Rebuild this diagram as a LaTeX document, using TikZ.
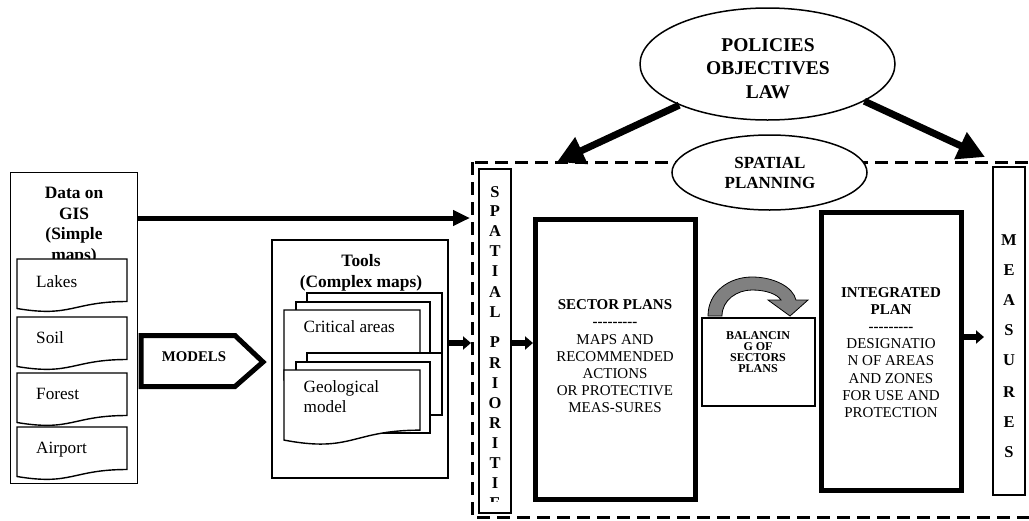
\documentclass[tikz,border=0pt]{standalone}
\usepackage{fontspec}
\setmainfont{Liberation Serif}
\usetikzlibrary{arrows.meta,shapes.geometric}
\newcommand\mydoc[5]{% x1 y1 x2 h name
  \filldraw[docline] (#1,#2) -- (#3,#2) -- (#3,{#2+0.802*#4})
    .. controls ({(#1+#3)/2},{#2+0.802*#4}) and ({(#1+#3)/2},{#2+1.108*#4}) .. (#1,{#2+0.934*#4}) -- cycle;
  \coordinate (#5) at (#1,#2);}
\newcommand\mystack[2]{% top y of back layer, name
  \filldraw[docline] (307,#1) rectangle (442,{#1+62});
  \filldraw[docline] (296,{#1+9}) rectangle (430,{#1+80});
  \mydoc{284}{#1+17}{420}{75}{#2}}
\begin{document}
\begin{tikzpicture}[x=1pt,y=-1pt,
  docline/.style={draw=black, fill=white, line width=1.4pt},
  tbox/.style={draw, line width=1.5pt, fill=white, inner sep=0pt},
  fatbox/.style={draw, line width=5pt, fill=white, inner sep=0pt},
  bigarrow/.style={line width=5pt, -{Triangle[length=17pt,width=15pt]}},
  smallarrow/.style={line width=6pt, -{Triangle[length=8pt,width=13pt]}},
  polarrow/.style={line width=7pt, -{Triangle[length=27pt,width=28pt]}},
  txt/.style={inner sep=0pt, font=\fontsize{17.2}{20}\selectfont},
  btxt/.style={inner sep=0pt, font=\bfseries\fontsize{17.4}{20.5}\selectfont},
  plantxt/.style={inner sep=0pt, align=center, font=\fontsize{15}{17.2}\selectfont},
  letter/.style={inner sep=0pt, font=\bfseries\fontsize{16.5}{18}\selectfont}
]
\useasboundingbox (0,0) rectangle (1029,520);
\clip (0,0) rectangle (1029,520);

% dashed spatial planning frame
\draw[line width=3pt, dash pattern=on 13pt off 7pt] (472,162) rectangle (1045,517);

% Data on GIS
\node[tbox, minimum width=127pt, minimum height=311pt] (data) at (74,328) {};
\node[btxt, align=center, anchor=north] (datatext) at (74,187) {Data on\\GIS\\(Simple\\maps)};
\mydoc{17}{259}{127}{53}{lakesdoc}
\mydoc{17}{317}{127}{53}{soildoc}
\mydoc{17}{373}{127}{53}{forestdoc}
\mydoc{17}{427}{127}{53}{airportdoc}
\node[txt, anchor=base west] (lakes) at (36,287) {Lakes};
\node[txt, anchor=base west] (soil) at (36,343) {Soil};
\node[txt, anchor=base west] (forest) at (36,399) {Forest};
\node[txt, anchor=base west] (airport) at (36,453) {Airport};

% MODELS arrow shape
\draw[line width=5pt, line join=miter, fill=white] (141,335.5) -- (235,335.5) -- (263,362) -- (235,386.5) -- (141,386.5) -- cycle;
\node[inner sep=0pt, font=\bfseries\fontsize{14.8}{17}\selectfont] (models) at (194,356.5) {MODELS};

% Tools
\node[tbox, minimum width=176pt, minimum height=238pt] (tools) at (360,359) {};
\node[btxt, align=center, anchor=north] (toolstext) at (361,254.5) {Tools\\(Complex maps)};
\mystack{293}{critdoc}
\mystack{353}{geodoc}
\node[txt, anchor=base west] (crit) at (303.5,332.5) {Critical areas};
\node[txt, align=left, anchor=north west] (geo) at (303.5,380) {Geological\\model};

% Spatial priorities
\node[tbox, minimum width=32pt, minimum height=344pt] (sp) at (495,341) {};
\begin{scope}
\clip (480,170) rectangle (510,501);
\foreach \ch/\yy in {S/192,P/211,A/231,T/251,I/271,A/292,L/312,P/342,R/363,I/383,O/403,R/423,I/443,T/463,I/483,E/503}
  \node[letter] (sp\yy) at (495,\yy) {\ch};
\end{scope}

% Sector plans
\node[fatbox, minimum width=160pt, minimum height=280pt] (sector) at (615.5,359.5) {};
\node[plantxt] (sectortext) at (615,356.5) {\textbf{SECTOR PLANS}\\\textbf{-{}-{}-{}-{}-{}-{}-{}-{}-}\\MAPS AND\\RECOMMENDED\\ACTIONS\\OR PROTECTIVE\\MEAS-SURES};

% Balancing
\node[tbox, minimum width=113pt, minimum height=88pt] (bal) at (758.5,362) {};
\node[inner sep=0pt, align=center, font=\bfseries\fontsize{12}{10.8}\selectfont] (baltext) at (758,352) {BALANCIN\\G OF\\SECTORS\\PLANS};
\filldraw[fill=gray, draw=black, line width=0.8pt]
  (708,316) .. controls (708,292) and (729,277) .. (752,277)
  .. controls (774,277) and (793,287) .. (796,300)
  -- (808,300) -- (790,316) -- (768,300) -- (781,300)
  .. controls (777,294) and (766,290) .. (752,290)
  .. controls (737,290) and (722,300) .. (722,316) -- cycle;

% Integrated plan
\node[fatbox, minimum width=140pt, minimum height=278pt] (integ) at (891.5,351.5) {};
\node[plantxt] (integtext) at (891,352.5) {\textbf{INTEGRATED}\\\textbf{PLAN}\\\textbf{-{}-{}-{}-{}-{}-{}-{}-{}-}\\DESIGNATIO\\N OF AREAS\\AND ZONES\\FOR USE AND\\PROTECTION};

% Measures
\node[tbox, minimum width=32pt, minimum height=328pt] (meas) at (1009,331) {};
\foreach \ch/\yy in {M/240,E/270,A/300,S/330,U/360,R/392,E/422,S/452}
  \node[letter] (ms\yy) at (1009,\yy) {\ch};

% Ellipses
\node[ellipse, draw, line width=1.5pt, fill=white, minimum width=255pt, minimum height=112pt, inner sep=0pt] (pol) at (767.5,64) {};
\node[inner sep=0pt, align=center, font=\bfseries\fontsize{19.5}{23.5}\selectfont] (poltext) at (768,68.5) {POLICIES\\OBJECTIVES\\LAW};
\node[ellipse, draw, line width=1.5pt, fill=white, minimum width=195pt, minimum height=75pt, inner sep=0pt] (plan) at (769.5,172.5) {};
\node[inner sep=0pt, align=center, font=\bfseries\fontsize{17}{20}\selectfont] (plantext) at (770,173) {SPATIAL\\PLANNING};

% connectors
\coordinate (dataend) at (470,218);
\draw[bigarrow] (data.east |- dataend) -- (dataend);
\coordinate (toolsend) at (471,343);
\draw[smallarrow] (tools.east |- toolsend) -- (toolsend);
\draw[smallarrow] (sp.east |- toolsend) -- (sector.west |- toolsend);
\coordinate (measend) at (984,337);
\draw[smallarrow] (integ.east |- measend) -- (measend);
\coordinate (leftend) at (557,162);
\coordinate (rightend) at (985,157);
\draw[polarrow] (pol.205) -- (leftend);
\draw[polarrow] (pol.339) -- (rightend);
\end{tikzpicture}
\end{document}
